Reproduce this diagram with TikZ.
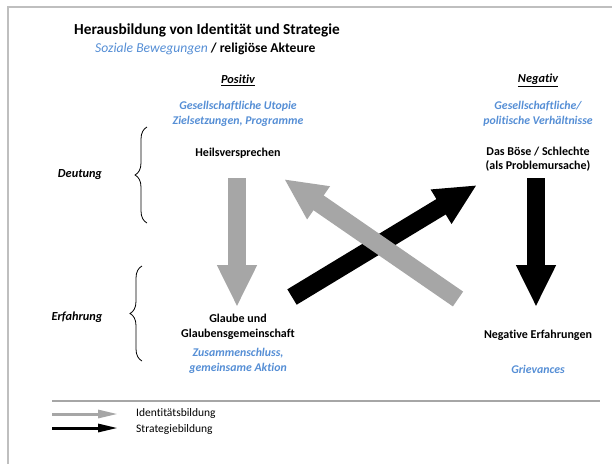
\documentclass[tikz,border=0pt]{standalone}
\usepackage{fontspec}
\setmainfont{Carlito}[Ligatures=NoCommon]
\usetikzlibrary{arrows.meta,decorations.pathreplacing}
\definecolor{hellblau}{HTML}{558ED5}
\definecolor{pfeilgrau}{HTML}{A6A6A6}
\definecolor{rahmen}{HTML}{BFBFBF}
\tikzset{
  lbl/.style={font=\fontsize{12}{14.5}\selectfont\bfseries, align=center, inner sep=0pt},
  blau/.style={lbl, text=hellblau, font=\fontsize{11.8}{14.5}\selectfont\bfseries\itshape},
  seite/.style={lbl, font=\fontsize{12.3}{14}\selectfont\bfseries\itshape},
  block/.style={line width=18pt, -{Triangle[width=37pt,length=42pt]}},
  legpfeil/.style={line width=3pt, -{Triangle[width=8pt,length=20pt]}},
  klammer/.style={decorate, decoration={brace, amplitude=12pt}, line width=0.8pt}
}
\begin{document}
\begin{tikzpicture}[x=1pt,y=-1pt]
\useasboundingbox (0,0) rectangle (612,464);
% Rahmen
\draw[rahmen, line width=2pt] (612,7) -- (8,7) -- (8,464);
% Titel
\node[anchor=west, inner sep=0pt, font=\fontsize{15.3}{17}\selectfont\bfseries] (titel) at (74,30) {Herausbildung von Identität und Strategie};
\node[anchor=west, inner sep=0pt, font=\fontsize{13.6}{15}\selectfont] (untertitel) at (95,49) {\textcolor{hellblau}{\itshape Soziale Bewegungen} \textbf{/ religiöse Akteure}};
% Spalten
\node[seite] (pos) at (238,80) {\underline{Positiv}};
\node[seite] (neg) at (538,80) {\underline{Negativ}};
\node[blau] (utopie) at (238,114) {Gesellschaftliche Utopie\\Zielsetzungen, Programme};
\node[blau] (verh) at (538,114) {Gesellschaftliche/\\politische Verhältnisse};
\node[lbl] (heil) at (238,153) {Heilsversprechen};
\node[lbl] (boese) at (538,159) {Das Böse / Schlechte\\(als Problemursache)};
\node[lbl] (glaube) at (238,327) {Glaube und\\Glaubensgemeinschaft};
\node[lbl] (negerf) at (538,335) {Negative Erfahrungen};
\node[blau] (zusammen) at (238,361) {Zusammenschluss,\\gemeinsame Aktion};
\node[blau] (griev) at (538,369) {Grievances};
% Zeilen
\node[seite] (deutung) at (80,175) {Deutung};
\node[seite] (erfahrung) at (77,317) {Erfahrung};
\draw[klammer] (147,223) -- (147,127);
\draw[klammer] (142,361) -- (142,266);
% Pfeile
\coordinate (gdA) at (237,178);  \coordinate (gdB) at (237,307);
\coordinate (sdA) at (536,178);  \coordinate (sdB) at (536,307);
\coordinate (sxA) at (292,297);  \coordinate (sxB) at (477,185);
\coordinate (gxA) at (458,299);  \coordinate (gxB) at (284,179);
\draw[block, pfeilgrau] (gdA) -- (gdB);
\draw[block, black] (sdA) -- (sdB);
\draw[block, black] (sxA) -- (sxB);
\draw[block, pfeilgrau] (gxA) -- (gxB);
% Legende
\draw[pfeilgrau, line width=1.5pt] (52,401) -- (600,401);
\coordinate (l1A) at (52,414);  \coordinate (l1B) at (118,414);
\coordinate (l2A) at (52,428);  \coordinate (l2B) at (118,428);
\draw[legpfeil, pfeilgrau] (l1A) -- (l1B);
\draw[legpfeil, black] (l2A) -- (l2B);
\node[anchor=west, inner sep=0pt, font=\fontsize{11.5}{12}\selectfont] (ident) at (136,413) {Identitätsbildung};
\node[anchor=west, inner sep=0pt, font=\fontsize{11.5}{12}\selectfont] (strat) at (136,429) {Strategiebildung};
\end{tikzpicture}
\end{document}
